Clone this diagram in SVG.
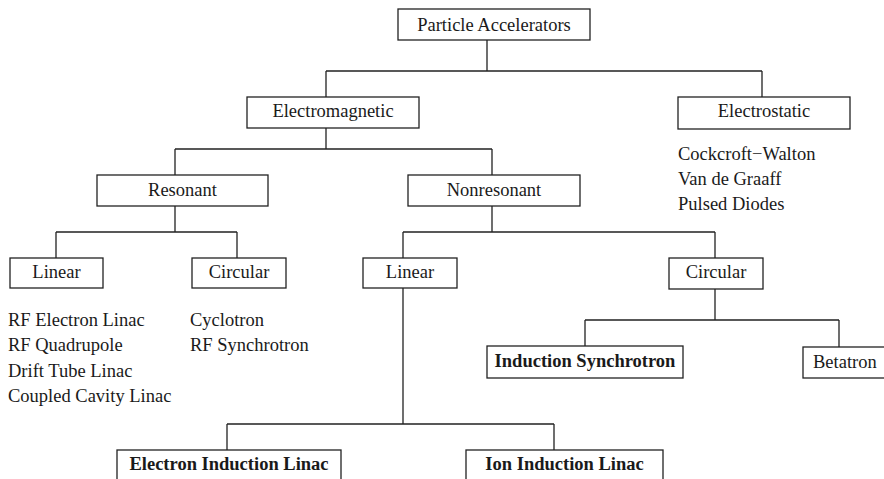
<svg xmlns="http://www.w3.org/2000/svg" width="884" height="479" viewBox="0 0 884 479">
<style>
rect{fill:#fff;stroke:#222;stroke-width:1.3}
text{font-family:"Liberation Serif","Times New Roman",serif;font-size:18.5px;fill:#1a1a1a}
.c{text-anchor:middle}
.b{font-weight:bold}
#connectors path{fill:none;stroke:#222;stroke-width:1.3}
</style>
<rect x="0" y="0" width="884" height="479" style="fill:#fff;stroke:none"/>
<g id="connectors">
<path d="M487,40V71M326,71H762M326,71V97M762,71V97"/>
<path d="M326,128V149M175,149H492M175,149V175M492,149V175"/>
<path d="M175,206V232M56,232H237M56,232V258M237,232V258"/>
<path d="M492,206V232M403,232H715M403,232V258M715,232V258"/>
<path d="M403,288V424M227,424H554M227,424V450M554,424V450"/>
<path d="M715,289V320M585,320H839M585,320V346M839,320V347"/>
</g>
<g id="particle-accelerators"><rect x="398" y="9" width="192" height="31"/><text class="c" x="494" y="30.5">Particle Accelerators</text></g>
<g id="electromagnetic"><rect x="247" y="97" width="172" height="31"/><text class="c" x="333" y="117">Electromagnetic</text></g>
<g id="electrostatic"><rect x="678" y="97" width="172" height="32"/><text class="c" x="764" y="117">Electrostatic</text>
<text x="678" y="160">Cockcroft−Walton</text><text x="678" y="185">Van de Graaff</text><text x="678" y="210">Pulsed Diodes</text></g>
<g id="resonant"><rect x="97" y="175" width="171" height="31"/><text class="c" x="182.5" y="196">Resonant</text></g>
<g id="nonresonant"><rect x="408" y="175" width="172" height="31"/><text class="c" x="494" y="196">Nonresonant</text></g>
<g id="res-linear"><rect x="10" y="258" width="93" height="30"/><text class="c" x="56.5" y="278">Linear</text>
<text x="8" y="326">RF Electron Linac</text><text x="8" y="351">RF Quadrupole</text><text x="8" y="377">Drift Tube Linac</text><text x="8" y="402">Coupled Cavity Linac</text></g>
<g id="res-circular"><rect x="192" y="258" width="94" height="30"/><text class="c" x="239" y="278">Circular</text>
<text x="190" y="326">Cyclotron</text><text x="190" y="351">RF Synchrotron</text></g>
<g id="nonres-linear"><rect x="363" y="258" width="94" height="30"/><text class="c" x="410" y="278">Linear</text></g>
<g id="nonres-circular"><rect x="669" y="258" width="94" height="31"/><text class="c" x="716" y="278">Circular</text></g>
<g id="induction-synchrotron"><rect x="487" y="346" width="196" height="32"/><text class="c b" x="585" y="367">Induction Synchrotron</text></g>
<g id="betatron"><rect x="803" y="347" width="84" height="31"/><text x="813" y="368">Betatron</text></g>
<g id="electron-induction-linac"><rect x="117" y="450" width="224" height="40"/><text class="c b" x="229" y="470">Electron Induction Linac</text></g>
<g id="ion-induction-linac"><rect x="466" y="450" width="197" height="40"/><text class="c b" x="564.5" y="470">Ion Induction Linac</text></g>
</svg>
